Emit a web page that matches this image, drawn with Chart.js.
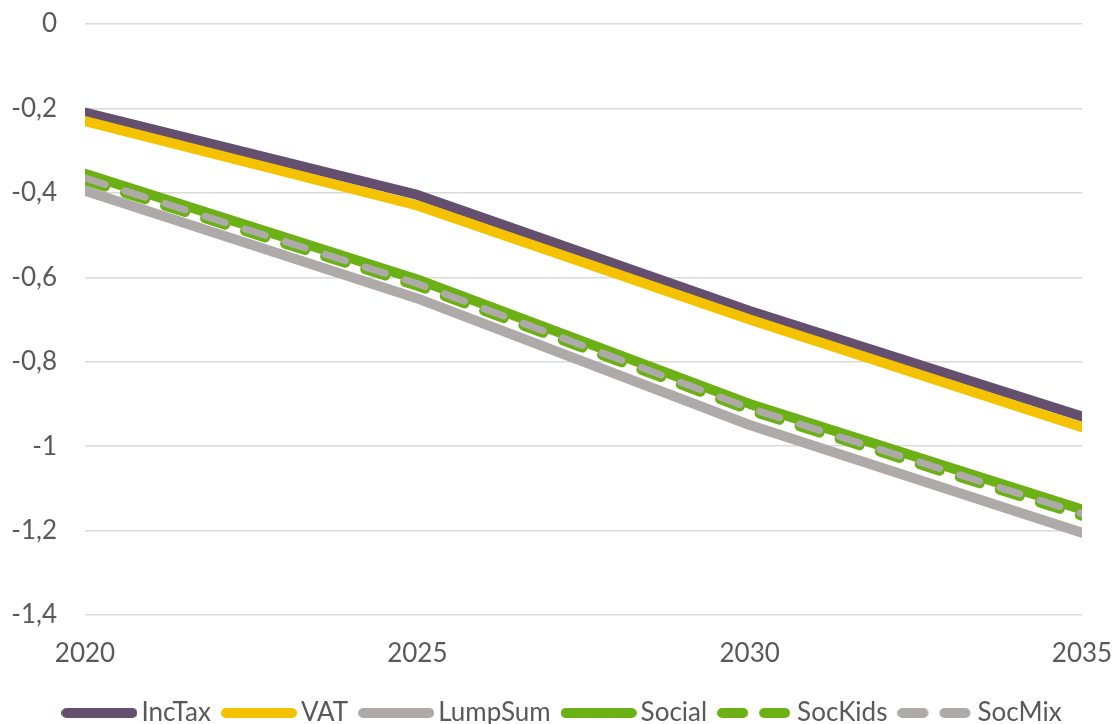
<!DOCTYPE html>
<html>
<head>
<meta charset="utf-8">
<script src="https://cdn.jsdelivr.net/npm/chart.js@4/dist/chart.umd.min.js"></script>
<style>
  html, body { margin: 0; padding: 0; background: #ffffff; }
  #wrap { width: 1112px; height: 724px; position: relative; }
</style>
</head>
<body>
<div id="wrap"><canvas id="chart"></canvas></div>
<script>
// Years on the horizontal axis
const years = [2020, 2025, 2030, 2035];

// Series values
const incTax  = [-0.21,  -0.405, -0.68,  -0.93];
const vat     = [-0.23,  -0.43,  -0.70,  -0.955];
const lumpSum = [-0.395, -0.65,  -0.95,  -1.205];
const social  = [-0.355, -0.605, -0.90,  -1.15];
const socKids = [-0.37,  -0.62,  -0.915, -1.165];
const socMix  = [-0.365, -0.615, -0.91,  -1.16];

// Tick values
const yTicks = [0, -0.2, -0.4, -0.6, -0.8, -1, -1.2, -1.4];
const xTicks = [2020, 2025, 2030, 2035];

const seriesNames = ['IncTax', 'VAT', 'LumpSum', 'Social', 'SocKids', 'SocMix'];
const seriesValues = [incTax, vat, lumpSum, social, socKids, socMix];
const seriesColors = ['#654f6e', '#f5c200', '#aeaaaa', '#6bb014', '#6bb014', '#aeaaaa'];
const seriesWidths = [10, 10, 10, 10, 10, 7];
const seriesDashes = [[], [], [], [], [21, 21], [21, 21]];

const textColor = '#595959';
const fontFamily = 'Lato, "Open Sans", sans-serif';
const fontSize = 26;

// Legend samples: short thick strokes with round ends, dashed where the series is dashed
function legendSample(color, dash) {
  const c = document.createElement('canvas');
  c.width = 76;
  c.height = 16;
  const g = c.getContext('2d');
  g.strokeStyle = color;
  g.lineWidth = 10;
  g.lineCap = 'round';
  g.setLineDash(dash);
  g.beginPath();
  g.moveTo(5, 8);
  g.lineTo(71, 8);
  g.stroke();
  return c;
}
const legendSamples = seriesNames.map((_, i) => legendSample(seriesColors[i], seriesDashes[i]));

const datasets = seriesNames.map((name, i) => ({
  label: name,
  data: years.map((y, j) => ({ x: y, y: seriesValues[i][j] })),
  borderColor: seriesColors[i],
  backgroundColor: seriesColors[i],
  borderWidth: seriesWidths[i],
  borderDash: seriesDashes[i],
  borderCapStyle: 'round',
  borderJoinStyle: 'round',
  pointRadius: 0,
  pointHoverRadius: 0,
  tension: 0,
  fill: false,
  // later series are painted over earlier ones
  order: seriesNames.length - i
}));

// Nudge the legend row a little to the right, under the plot
const legendShift = {
  id: 'legendShift',
  afterLayout(chart) {
    if (chart.legend) {
      chart.legend.left += 10;
      chart.legend.right += 10;
    }
  }
};

new Chart(document.getElementById('chart'), {
  type: 'line',
  data: { datasets },
  plugins: [legendShift],
  options: {
    responsive: true,
    maintainAspectRatio: false,
    animation: false,
    layout: { padding: { left: 0, right: 0, top: 24, bottom: -12 } },
    scales: {
      x: {
        type: 'linear',
        min: 2020,
        max: 2035,
        afterBuildTicks: (axis) => { axis.ticks = xTicks.map(v => ({ value: v })); },
        afterFit: (s) => { s.height = 66; s.paddingLeft = 0; s.paddingRight = 30; },
        grid: { display: false, drawTicks: false },
        border: { display: false },
        ticks: {
          color: textColor,
          font: { family: fontFamily, size: fontSize },
          padding: 23,
          maxRotation: 0,
          callback: (v) => String(v)
        }
      },
      y: {
        min: -1.4,
        max: 0,
        afterBuildTicks: (axis) => { axis.ticks = yTicks.map(v => ({ value: v })); },
        afterFit: (s) => { s.width = 85; s.paddingTop = 0; s.paddingBottom = 0; },
        grid: { color: '#d9d9d9', lineWidth: 1.5, drawTicks: false },
        border: { display: false },
        ticks: {
          color: textColor,
          font: { family: fontFamily, size: fontSize },
          padding: 28,
          callback: (v) => String(Math.round(v * 10) / 10).replace('.', ',')
        }
      }
    },
    plugins: {
      legend: {
        position: 'bottom',
        labels: {
          usePointStyle: true,
          pointStyleWidth: 58,
          color: textColor,
          font: { family: fontFamily, size: fontSize },
          padding: 19,
          generateLabels: (chart) =>
            Chart.defaults.plugins.legend.labels.generateLabels(chart).map(item => {
              item.pointStyle = legendSamples[item.datasetIndex];
              return item;
            }),
          sort: (a, b) => a.datasetIndex - b.datasetIndex
        }
      },
      tooltip: { enabled: false }
    }
  }
});
</script>
</body>
</html>
